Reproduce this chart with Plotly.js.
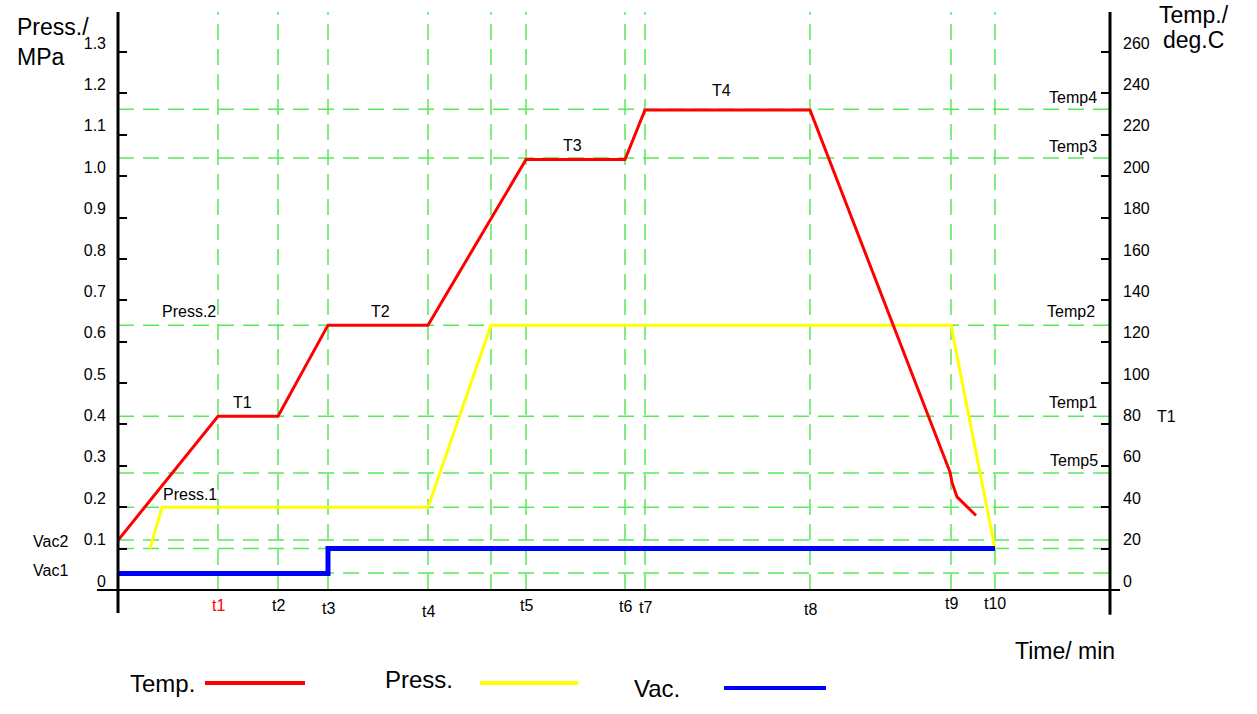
<!DOCTYPE html>
<html>
<head>
<meta charset="utf-8">
<script src="https://cdn.plot.ly/plotly-3.0.1.min.js"></script>
<style>
  html, body { margin: 0; padding: 0; background: #fff; }
  #chart { width: 1257px; height: 714px; }
</style>
</head>
<body>
<div id="chart"></div>
<script>
// ---------------- data ----------------
var timeTickLabels = ['t1', 't2', 't3', 't4', 't5', 't6', 't7', 't8', 't9', 't10'];
var timeTickValues = [100, 160, 210, 310, 408, 507, 527, 692, 833, 877];
var extraTimeGuide = [373];

var tempTime  = [0, 100, 160, 210, 310, 408, 507, 527, 692, 832, 834, 839, 858];
var tempValue = [24, 84, 84, 128, 128, 208, 208, 232, 232, 57, 52, 45, 36];

var pressTime  = [32, 44, 310, 373, 833, 877];
var pressValue = [0.10, 0.20, 0.20, 0.64, 0.64, 0.10];

var vacTime  = [0, 210, 210, 877];
var vacValue = [0.04, 0.04, 0.10, 0.10];

var pressTickValues = [0, 0.1, 0.2, 0.3, 0.4, 0.5, 0.6, 0.7, 0.8, 0.9, 1.0, 1.1, 1.2, 1.3];
var pressTickLabels = ['0', '0.1', '0.2', '0.3', '0.4', '0.5', '0.6', '0.7', '0.8', '0.9', '1.0', '1.1', '1.2', '1.3'];
var tempTickValues = [0, 20, 40, 60, 80, 100, 120, 140, 160, 180, 200, 220, 240, 260];
var tempTickLabels = ['0', '20', '40', '60', '80', '100', '120', '140', '160', '180', '200', '220', '240', '260'];

// horizontal guide levels (MPa axis units)
var guideLevels = [1.162, 1.044, 0.64, 0.42, 0.283, 0.20, 0.121, 0.10, 0.041];

// --------------- styles ---------------
var FONT = 'Liberation Sans, Arial, sans-serif';
var GREEN = 'rgb(90,232,90)';
var xMax = 992;
var pressMax = 1.3967;
var tempMax = pressMax * 200;

var shapes = [];
guideLevels.forEach(function (v) {
  shapes.push({type: 'line', xref: 'paper', yref: 'y', x0: 0, x1: 1, y0: v, y1: v,
    line: {color: GREEN, width: 1.5, dash: '16px,9px'}, layer: 'below'});
});
timeTickValues.concat(extraTimeGuide).forEach(function (t) {
  shapes.push({type: 'line', xref: 'x', yref: 'paper', x0: t, x1: t, y0: 0, y1: 1,
    line: {color: GREEN, width: 1.5, dash: '16px,9px'}, layer: 'below'});
});
// axis lines (with the extensions seen in the drawing)
shapes.push({type: 'line', xref: 'paper', yref: 'paper', x0: 0, x1: 0, y0: -0.040, y1: 1, line: {color: '#000', width: 3}});
shapes.push({type: 'line', xref: 'paper', yref: 'paper', x0: 1, x1: 1, y0: -0.043, y1: 1, line: {color: '#000', width: 3}});
shapes.push({type: 'line', xref: 'paper', yref: 'paper', x0: -0.0212, x1: 1.0101, y0: 0, y1: 0, line: {color: '#000', width: 2}});
// legend swatches
shapes.push({type: 'line', xref: 'paper', yref: 'paper', x0: 0.0877, x1: 0.1885, y0: -0.1609, y1: -0.1609, line: {color: '#ff0000', width: 4}});
shapes.push({type: 'line', xref: 'paper', yref: 'paper', x0: 0.3649, x1: 0.4637, y0: -0.1609, y1: -0.1609, line: {color: '#ffff00', width: 4}});
shapes.push({type: 'line', xref: 'paper', yref: 'paper', x0: 0.6109, x1: 0.7137, y0: -0.1696, y1: -0.1696, line: {color: '#0000ff', width: 4}});

var annotations = [];
function ann(text, x, y, opts) {
  var a = {text: text, x: x, y: y, xref: 'x', yref: 'y', showarrow: false,
    xanchor: 'center', yanchor: 'middle', font: {family: FONT, size: 16, color: '#000'}};
  for (var k in opts) a[k] = opts[k];
  annotations.push(a);
}
// in-chart labels
ann('Press.2', 71, 0.672);
ann('T1', 124, 0.454);
ann('T2', 262, 0.674);
ann('T3', 454, 1.075);
ann('T4', 603, 1.208);
ann('Press.1', 72, 0.230);
ann('Temp4', 981, 1.191, {xanchor: 'right'});
ann('Temp3', 981, 1.072, {xanchor: 'right'});
ann('Temp2', 979, 0.672, {xanchor: 'right'});
ann('Temp1', 981, 0.452, {xanchor: 'right'});
ann('Temp5', 982, 0.314, {xanchor: 'right'});

// time tick labels
var tickShift = [-15, -15, -18, -21, -15, -16, -17, -19, -13, -13];
timeTickLabels.forEach(function (lab, i) {
  annotations.push({text: lab, x: timeTickValues[i], y: 0, xref: 'x', yref: 'paper',
    showarrow: false, xanchor: 'center', yanchor: 'middle', yshift: tickShift[i],
    font: {family: FONT, size: 16, color: i === 0 ? '#ff0000' : '#000'}});
});

function pann(text, x, y, size, xanchor) {
  annotations.push({text: text, x: x, y: y, xref: 'paper', yref: 'paper', showarrow: false,
    xanchor: xanchor || 'left', yanchor: 'middle', font: {family: FONT, size: size, color: '#000'}});
}
// labels outside the plotting area
pann('Vac2', -0.0685, 0.0831, 16, 'center');
pann('Vac1', -0.0685, 0.0344, 16, 'center');
pann('T1', 1.0565, 0.3007, 16, 'center');
// axis titles
pann('Press./', -0.1038, 0.974, 23);
pann('MPa', -0.1038, 0.922, 23);
pann('Temp./', 1.0474, 0.994, 23);
pann('deg.C', 1.0514, 0.9516, 23);
pann('Time/ min', 0.9022, -0.1055, 23);
// legend text
pann('Temp.', 0.0101, -0.161, 24);
pann('Press.', 0.267, -0.1557, 24);
pann('Vac.', 0.518, -0.1696, 24);

var traces = [
  {x: tempTime, y: tempValue, yaxis: 'y2', mode: 'lines', name: 'Temp.',
   line: {color: '#ff0000', width: 3}},
  {x: pressTime, y: pressValue, yaxis: 'y', mode: 'lines', name: 'Press.',
   line: {color: '#ffff00', width: 3}},
  {x: vacTime, y: vacValue, yaxis: 'y', mode: 'lines', name: 'Vac.',
   line: {color: '#0000ff', width: 5}}
];

var layout = {
  width: 1257, height: 714,
  margin: {l: 118, r: 147, t: 12, b: 124, pad: 0},
  paper_bgcolor: '#fff', plot_bgcolor: '#fff',
  showlegend: false,
  font: {family: FONT, size: 16, color: '#000'},
  xaxis: {range: [0, xMax], showgrid: false, zeroline: false, showline: false,
    showticklabels: false, ticks: '', fixedrange: true},
  yaxis: {range: [0, pressMax], tickvals: pressTickValues, ticktext: pressTickLabels,
    ticks: 'inside', ticklen: 9, tickwidth: 2, tickcolor: '#000',
    ticklabelshift: -9, ticklabelstandoff: 11,
    showgrid: false, zeroline: false, showline: false,
    tickfont: {family: FONT, size: 16, color: '#000'}, fixedrange: true},
  yaxis2: {range: [0, tempMax], overlaying: 'y', side: 'right',
    tickvals: tempTickValues, ticktext: tempTickLabels,
    ticks: 'inside', ticklen: 9, tickwidth: 2, tickcolor: '#000',
    ticklabelshift: -9, ticklabelstandoff: 12,
    showgrid: false, zeroline: false, showline: false,
    tickfont: {family: FONT, size: 16, color: '#000'}, fixedrange: true},
  shapes: shapes,
  annotations: annotations
};

Plotly.newPlot('chart', traces, layout, {displayModeBar: false, staticPlot: true});
</script>
</body>
</html>
